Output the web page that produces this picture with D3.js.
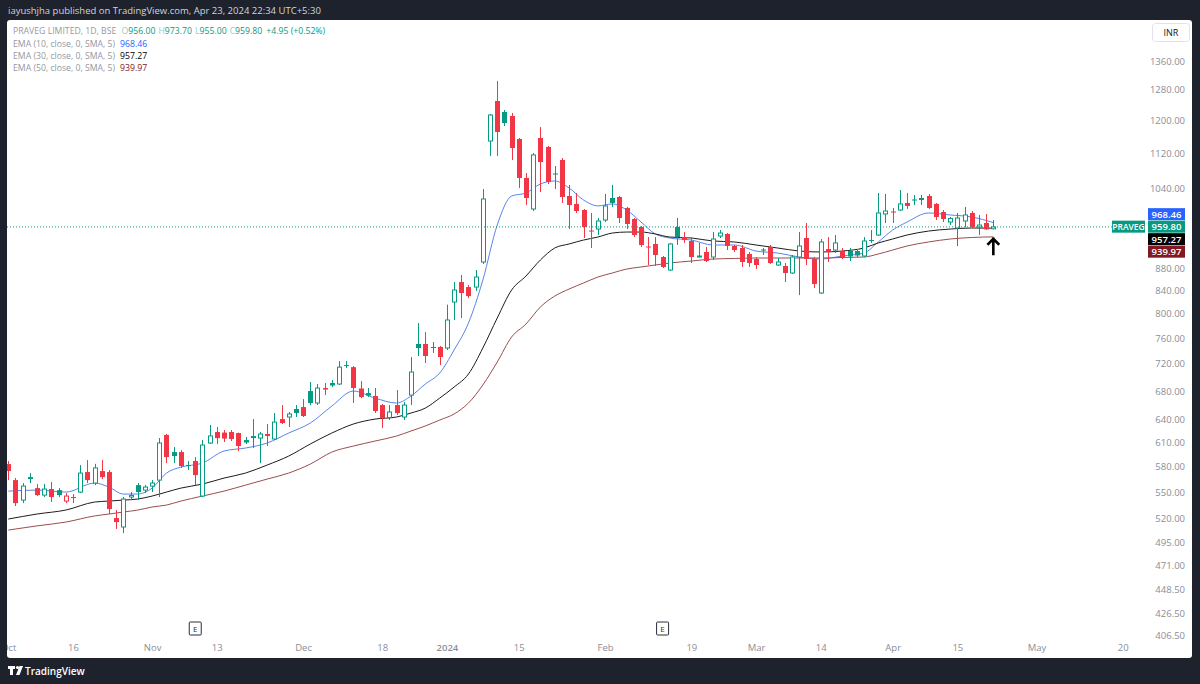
<!DOCTYPE html>
<html><head><meta charset="utf-8">
<script src="https://cdn.jsdelivr.net/npm/d3@7"></script>
<style>
body{margin:0;background:#1e222d;}
svg{display:block;}
text{font-family:"Open Sans","Noto Sans",sans-serif;}
</style></head>
<body><svg id="chart" width="1200" height="684"></svg>
<script>
// ---------------- DATA ----------------
const dates = [
"2023-10-03","2023-10-04","2023-10-05","2023-10-06","2023-10-09","2023-10-10","2023-10-11","2023-10-12","2023-10-13","2023-10-16",
"2023-10-17","2023-10-18","2023-10-19","2023-10-20","2023-10-23","2023-10-25","2023-10-26","2023-10-27","2023-10-30","2023-10-31",
"2023-11-01","2023-11-02","2023-11-03","2023-11-06","2023-11-07","2023-11-08","2023-11-09","2023-11-10","2023-11-12","2023-11-13",
"2023-11-15","2023-11-16","2023-11-17","2023-11-20","2023-11-21","2023-11-22","2023-11-23","2023-11-24","2023-11-28","2023-11-29",
"2023-11-30","2023-12-01","2023-12-04","2023-12-05","2023-12-06","2023-12-07","2023-12-08","2023-12-11","2023-12-12","2023-12-13",
"2023-12-14","2023-12-15","2023-12-18","2023-12-19","2023-12-20","2023-12-21","2023-12-22","2023-12-26","2023-12-27","2023-12-28",
"2023-12-29","2024-01-01","2024-01-02","2024-01-03","2024-01-04","2024-01-05","2024-01-08","2024-01-09","2024-01-10","2024-01-11",
"2024-01-12","2024-01-15","2024-01-16","2024-01-17","2024-01-18","2024-01-19","2024-01-20","2024-01-23","2024-01-24","2024-01-25",
"2024-01-29","2024-01-30","2024-01-31","2024-02-01","2024-02-02","2024-02-05","2024-02-06","2024-02-07","2024-02-08","2024-02-09",
"2024-02-12","2024-02-13","2024-02-14","2024-02-15","2024-02-16","2024-02-19","2024-02-20","2024-02-21","2024-02-22","2024-02-23",
"2024-02-26","2024-02-27","2024-02-28","2024-02-29","2024-03-01","2024-03-02","2024-03-04","2024-03-05","2024-03-06","2024-03-07",
"2024-03-11","2024-03-12","2024-03-13","2024-03-14","2024-03-15","2024-03-18","2024-03-19","2024-03-20","2024-03-21","2024-03-22",
"2024-03-26","2024-03-27","2024-03-28","2024-04-01","2024-04-02","2024-04-03","2024-04-04","2024-04-05","2024-04-08","2024-04-09",
"2024-04-10","2024-04-12","2024-04-15","2024-04-16","2024-04-18","2024-04-19","2024-04-22","2024-04-23"];
const futureDates = ["2024-04-24","2024-04-25","2024-04-26","2024-04-29","2024-04-30","2024-05-02","2024-05-03","2024-05-06","2024-05-07",
"2024-05-08","2024-05-09","2024-05-10","2024-05-13","2024-05-14","2024-05-15","2024-05-16","2024-05-17","2024-05-20","2024-05-21",
"2024-05-22","2024-05-23","2024-05-24","2024-05-27","2024-05-28","2024-05-29","2024-05-30","2024-05-31"];

const open = [583.2,563.9,540.7,565.7,554.5,546.4,553.4,552.2,539.6,544.2,
549.9,573.5,560.4,574.7,573.5,520.7,511.0,544.2,558.0,552.2,
556.9,563.9,620.0,598.1,598.1,582.0,586.9,545.3,609.6,623.8,
623.1,623.8,622.5,613.4,616.6,615.9,621.2,614.7,641.0,643.8,
654.7,657.4,679.9,663.0,684.2,691.5,690.0,718.0,714.9,683.5,
677.0,672.8,660.2,643.1,660.2,643.8,674.2,750.5,750.5,745.8,
745.8,744.2,819.7,854.8,845.9,845.9,891.6,1149.6,1250.4,1221.9,
1211.6,1154.5,1063.7,996.6,1156.9,1135.3,1073.8,1104.6,1024.2,1007.3,
994.5,952.5,955.5,973.8,1019.9,1022.1,998.7,975.9,959.6,921.1,
926.0,901.0,876.7,959.6,939.6,931.8,901.0,910.5,901.0,941.6,
945.6,922.1,918.2,906.7,897.2,915.3,920.1,886.0,884.1,871.2,
901.0,937.7,897.2,835.4,916.2,914.3,912.4,912.4,912.4,902.9,
933.7,943.6,986.3,991.4,994.5,1009.3,1016.7,1019.9,1024.2,1007.3,
990.3,969.7,957.6,971.8,988.3,959.6,967.7,956.0];
const high = [586.9,566.3,560.4,572.3,559.2,559.2,561.6,554.5,548.7,547.6,
582.0,588.1,583.5,588.1,575.9,529.5,544.2,549.9,560.4,558.0,
563.9,616.0,621.3,604.4,600.6,586.9,591.8,613.4,633.1,630.4,
626.4,626.4,623.1,617.3,641.0,623.8,634.4,649.2,660.2,650.6,
660.2,668.5,692.9,690.0,691.5,695.8,724.1,724.1,716.5,694.3,
684.2,684.2,661.6,660.2,681.3,664.3,730.2,784.3,769.6,753.6,
747.4,815.2,854.8,867.5,849.5,876.7,1039.3,1216.6,1303.9,1227.0,
1219.3,1156.9,1074.9,1121.1,1183.9,1137.7,1090.8,1109.2,1048.2,1030.7,
996.6,988.3,977.9,1028.5,1048.2,1024.2,1001.0,977.9,961.6,939.6,
939.6,902.9,928.0,977.9,949.5,939.6,928.0,920.1,949.5,953.5,
947.5,924.0,924.0,910.5,901.0,918.2,924.0,899.1,889.7,904.8,
949.5,967.7,901.0,935.7,939.6,943.6,918.2,918.2,916.2,939.6,
953.5,1030.7,1028.5,998.7,1037.1,1030.7,1026.3,1026.3,1028.5,1009.3,
994.5,980.0,988.3,1001.0,992.4,984.2,986.3,973.7];
const low = [563.9,534.0,537.3,560.4,545.3,544.2,538.5,544.2,537.3,537.3,
548.7,560.4,558.0,565.1,525.1,508.8,504.5,540.7,540.7,548.7,
549.9,544.2,584.4,584.4,578.4,575.9,558.0,544.2,608.3,608.3,
610.8,612.1,599.4,608.3,603.2,584.4,605.7,613.4,634.4,630.4,
643.8,643.8,660.2,660.2,674.2,685.6,688.6,713.5,663.0,669.9,
671.4,649.2,629.1,639.7,646.5,639.7,660.2,731.8,721.1,736.5,
718.0,741.1,789.3,792.6,826.6,838.9,887.9,1114.0,1114.0,1186.5,
1104.6,1041.5,1005.1,992.4,1032.8,1050.4,1039.3,1009.3,955.5,988.3,
937.7,918.2,943.6,969.7,1001.0,967.7,955.5,939.6,920.1,886.0,
884.1,880.4,874.9,924.0,928.0,889.7,900.1,891.6,895.3,937.7,
914.3,910.5,882.3,882.3,878.5,904.8,887.9,884.1,854.8,869.4,
831.8,886.0,844.2,833.6,891.6,908.6,897.2,893.4,901.0,901.0,
928.0,941.6,967.7,967.7,992.4,996.6,1005.1,1005.1,996.6,973.8,
969.7,963.6,922.1,959.6,957.6,943.6,954.0,955.0];
const close = [574.7,537.3,556.9,566.9,546.4,553.4,544.2,546.4,545.3,543.0,
572.3,563.9,578.5,567.5,530.6,516.3,541.9,545.9,549.9,555.7,
560.4,609.6,591.8,593.1,580.8,581.2,569.9,607.0,618.7,615.9,
615.3,614.7,605.7,610.2,617.9,621.2,618.6,637.0,635.7,647.9,
649.2,645.2,663.0,684.2,682.0,687.9,714.9,716.5,684.2,671.4,
673.5,651.9,642.4,650.6,649.2,660.2,707.6,744.2,731.8,744.2,
730.2,789.3,840.6,835.4,830.0,863.9,1017.8,1214.1,1171.6,1193.9,
1132.9,1063.7,1019.9,1116.4,1100.0,1054.8,1071.6,1022.1,1005.1,992.4,
959.6,950.5,971.8,1003.0,1009.3,977.9,965.7,943.6,924.0,919.2,
904.8,882.3,926.0,939.6,933.7,901.0,902.9,893.4,935.7,947.5,
922.1,914.3,891.6,889.7,886.0,913.3,889.7,891.6,871.2,901.0,
922.1,897.2,851.3,929.9,912.4,928.0,901.0,902.0,903.9,931.8,
932.1,988.3,992.4,989.3,1007.3,1003.0,1014.5,1015.6,998.7,980.0,
975.9,977.0,977.9,984.2,959.6,963.6,954.85,959.8];

// EMA readings at selected bars (bar index into dates)
const emaBar = [0,4,8,12,14,16,18,20,22,24,27,30,33,36,39,42,45,48,51,54,56,58,60,62,64,66,68,70,72,74,76,78,80,82,84,86,88,90,92,95,98,101,104,107,110,113,116,119,121,123,125,128,131,134,137];
const ema10 = [551.0,552.2,549.9,560.4,555.7,547.6,547.6,554.5,572.3,579.5,584.4,599.4,603.2,609.6,622.5,635.7,658.8,679.9,669.9,663.0,672.8,690.0,706.1,741.1,784.3,858.4,963.6,1024.2,1030.7,1050.4,1057.0,1041.5,1015.6,1003.0,1007.3,994.5,969.7,945.6,937.7,933.7,924.0,924.0,912.4,908.6,901.0,897.2,902.9,908.6,929.9,953.5,969.7,988.3,984.2,980.0,968.46];
const ema30 = [519.6,525.1,529.5,538.5,539.6,540.7,541.9,545.3,549.9,554.5,559.2,566.3,572.3,582.0,593.1,608.3,622.5,634.4,641.0,643.8,649.2,656.0,669.9,685.6,704.6,744.2,792.6,840.6,865.7,895.3,918.2,926.0,933.7,939.6,947.5,949.5,949.5,945.6,939.6,937.7,931.8,929.9,924.0,918.2,912.4,910.5,912.4,918.2,928.0,935.7,943.6,951.5,955.5,957.6,957.27];
const ema50 = [507.7,512.2,516.3,523.0,525.1,527.3,529.5,532.9,535.1,539.6,545.3,551.0,558.0,565.1,572.3,583.2,598.1,605.7,612.1,618.6,625.1,631.8,639.7,647.9,663.0,688.6,722.6,761.6,782.7,811.1,830.0,842.4,853.1,863.9,871.2,878.5,882.3,886.0,889.7,893.4,897.2,898.2,899.1,899.1,899.1,899.1,900.1,901.0,906.7,914.3,922.1,929.9,935.7,938.7,939.97];

const yTicks = [1360,1280,1200,1120,1040,880,840,800,760,720,680,640,610,580,550,520,495,471,448.5,426.5,406.5];
const xTickDates = ["2023-10-03","2023-10-16","2023-11-01","2023-11-13","2023-12-01","2023-12-18","2024-01-01","2024-01-15","2024-02-01","2024-02-19","2024-03-01","2024-03-14","2024-04-01","2024-04-15","2024-05-02","2024-05-20"];
const xTickLabels = ["Oct","16","Nov","13","Dec","18","2024","15","Feb","19","Mar","14","Apr","15","May","20"];
const earningsDates = ["2023-11-09","2024-02-13"];

const symbol = "PRAVEG";
const title = "PRAVEG LIMITED, 1D, BSE";
const ohlcLabels = ["O","H","L","C"];
const change = "+4.95 (+0.52%)";
const emaNames = ["EMA (10, close, 0, SMA, 5)","EMA (30, close, 0, SMA, 5)","EMA (50, close, 0, SMA, 5)"];

// ---------------- STYLE ----------------
const UP = "#089981", DOWN = "#f23645";
const EMA_COL = ["#5b83ec", "#1c1c1c", "#9a4e4e"];
const EMA_LBL = ["#2962ff", "#000000", "#801922"];

const svg = d3.select("#chart");
const W = 1200, H = 684;
const panel = {x0: 7, x1: 1192, y0: 20, y1: 658};
const plotRight = 1146;

svg.append("rect").attr("width", W).attr("height", H).attr("fill", "#1e222d");
svg.append("rect").attr("x", panel.x0).attr("y", panel.y0)
  .attr("width", panel.x1 - panel.x0).attr("height", panel.y1 - panel.y0)
  .attr("rx", 3).attr("fill", "#ffffff");

// header
svg.append("text").attr("x", 8).attr("y", 14).attr("fill", "#d1d4dc")
  .attr("font-size", 9.5).text("iayushjha published on TradingView.com, Apr 23, 2024 22:34 UTC+5:30");

// scales
const allDates = dates.concat(futureDates);
const step = 7.19, firstX = 8.3;
const x = d3.scalePoint().domain(allDates).range([firstX, firstX + (allDates.length - 1) * step]);
const y = d3.scaleLog().domain([406.5, 1360]).range([635.9, 61]);

// clip
svg.append("clipPath").attr("id", "plotclip").append("rect")
  .attr("x", panel.x0).attr("y", panel.y0).attr("width", plotRight - panel.x0).attr("height", panel.y1 - panel.y0);
const plot = svg.append("g").attr("clip-path", "url(#plotclip)");

// right axis
const yAxis = d3.axisRight(y).tickValues(yTicks).tickSize(0).tickFormat(d3.format(".2f"));
const ga = svg.append("g").attr("transform", `translate(${plotRight},0)`).call(yAxis);
ga.select(".domain").remove();
ga.selectAll("text").attr("x", 1185 - plotRight).attr("text-anchor", "end")
  .attr("fill", "#8a8e98").attr("font-size", 9.5).attr("font-family", "Open Sans");

// bottom axis (wrapped in a clipped group so labels cut at the panel edge)
const xAxis = d3.axisBottom(x).tickValues(xTickDates).tickSize(0)
  .tickFormat(d => xTickLabels[xTickDates.indexOf(d)]);
const gxWrap = svg.append("g").attr("clip-path", "url(#plotclip)");
const gx = gxWrap.append("g").attr("transform", `translate(0,641)`).call(xAxis);
gx.select(".domain").remove();
gx.selectAll("text").attr("fill", "#8a8e98").attr("font-size", 9.5).attr("font-family", "Open Sans")
  .attr("font-weight", d => d.endsWith("01-01") ? 600 : 400);

// earnings markers
earningsDates.forEach(d => {
  const g = svg.append("g").attr("transform", `translate(${x(d)},629)`);
  g.append("rect").attr("x", -6).attr("y", -7).attr("width", 12).attr("height", 13)
    .attr("fill", "#fff").attr("stroke", "#2a2e39").attr("stroke-width", 1).attr("rx", 1);
  g.append("text").attr("text-anchor", "middle").attr("y", 3).attr("font-size", 8).attr("fill", "#2a2e39").text("E");
});

// EMA lines
const emaSets = [ema10, ema30, ema50];
emaSets.forEach((vals, k) => {
  const line = d3.line().x((v, i) => x(dates[emaBar[i]])).y(v => y(v)).curve(d3.curveMonotoneX);
  plot.append("path").attr("d", line(vals)).attr("fill", "none")
    .attr("stroke", EMA_COL[k]).attr("stroke-width", 1);
});

// candles
const bars = dates.map((d, i) => ({d, o: open[i], h: high[i], l: low[i], c: close[i],
  pc: i > 0 ? close[i - 1] : open[i]}));
const bw = 5;
const cg = plot.selectAll("g.candle").data(bars).enter().append("g");
cg.each(function(b) {
  const g = d3.select(this);
  const col = b.c >= b.pc ? UP : DOWN;
  const hollow = b.c > b.o;
  const cx = Math.round(x(b.d)) + 0.5;
  g.append("line").attr("x1", cx).attr("x2", cx).attr("y1", y(b.h)).attr("y2", y(b.l))
    .attr("stroke", col).attr("stroke-width", 1);
  const top = y(Math.max(b.o, b.c)), bot = y(Math.min(b.o, b.c));
  const hgt = Math.max(1, bot - top);
  if (hollow) {
    g.append("rect").attr("x", cx - bw / 2 + 0.5).attr("y", top).attr("width", bw - 1).attr("height", Math.max(1, hgt))
      .attr("fill", "#ffffff").attr("stroke", col).attr("stroke-width", 1);
  } else {
    g.append("rect").attr("x", cx - bw / 2).attr("y", top).attr("width", bw).attr("height", hgt).attr("fill", col);
  }
});

// last price dotted line
const last = close[close.length - 1];
svg.append("line").attr("x1", panel.x0).attr("x2", 1112).attr("y1", y(last)).attr("y2", y(last))
  .attr("stroke", UP).attr("stroke-width", 1).attr("stroke-dasharray", "1,2");

// arrow annotation under last bar
const ax = x(dates[dates.length - 1]);
const aTip = y(ema50[ema50.length - 1]) + 1;
svg.append("path")
  .attr("d", `M${ax},${aTip + 16} L${ax},${aTip + 1} M${ax - 5},${aTip + 6} L${ax},${aTip + 1} L${ax + 5},${aTip + 6}`)
  .attr("fill", "none").attr("stroke", "#000").attr("stroke-width", 2.6).attr("stroke-linecap", "square");

// price labels on axis, stacked to avoid overlap
const lblH = 12.5;
const lastEma = emaSets.map(a => a[a.length - 1]);
const closeY = y(last);
const labels = [
  {v: lastEma[0], bg: EMA_LBL[0]},
  {v: last, bg: UP},
  {v: lastEma[1], bg: EMA_LBL[1]},
  {v: lastEma[2], bg: EMA_LBL[2]}
];
labels[1].py = closeY;
labels[0].py = Math.min(y(labels[0].v), closeY - lblH);
labels[2].py = Math.max(y(labels[2].v), closeY + lblH);
labels[3].py = Math.max(y(labels[3].v), labels[2].py + lblH);
labels.forEach(L => {
  svg.append("rect").attr("x", 1148).attr("y", L.py - lblH / 2).attr("width", 37).attr("height", lblH - 0.5)
    .attr("fill", L.bg);
  svg.append("text").attr("x", 1166.5).attr("y", L.py + 3.3).attr("text-anchor", "middle")
    .attr("fill", "#fff").attr("font-size", 9.5).attr("font-weight", 600).text(d3.format(".2f")(L.v));
});
svg.append("rect").attr("x", 1112).attr("y", closeY - lblH / 2).attr("width", 33).attr("height", lblH - 0.5).attr("fill", UP);
svg.append("text").attr("x", 1128.5).attr("y", closeY + 3.3).attr("text-anchor", "middle")
  .attr("fill", "#fff").attr("font-size", 8.5).attr("font-weight", 600).text(symbol);

// INR box
svg.append("rect").attr("x", 1152.5).attr("y", 23.5).attr("width", 37).attr("height", 18).attr("rx", 3)
  .attr("fill", "#fff").attr("stroke", "#e0e3eb");
svg.append("text").attr("x", 1171).attr("y", 36).attr("text-anchor", "middle").attr("fill", "#131722")
  .attr("font-size", 9).text("INR");

// legend
const lg = svg.append("g").attr("font-size", 8.7);
const row1 = lg.append("text").attr("x", 13).attr("y", 33.5);
row1.append("tspan").attr("fill", "#9598a1").text(title + " ");
const ohlcVals = [open, high, low, close].map(a => a[a.length - 1]);
ohlcLabels.forEach((l, k) => {
  row1.append("tspan").attr("fill", "#9bcbc0").attr("dx", 3).text(l);
  row1.append("tspan").attr("fill", UP).text(d3.format(".2f")(ohlcVals[k]));
});
row1.append("tspan").attr("fill", UP).attr("dx", 4).text(change);
emaNames.forEach((n, k) => {
  const t = lg.append("text").attr("x", 13).attr("y", 46.5 + k * 12.4);
  t.append("tspan").attr("fill", "#9598a1").text(n);
  t.append("tspan").attr("fill", EMA_LBL[k]).attr("dx", 5).text(d3.format(".2f")(lastEma[k]));
});

// footer logo
const fl = svg.append("g").attr("fill", "#ffffff");
fl.append("path").attr("d", "M8,666 h7 v3 h-2 v6 h-3 v-6 h-2 z");
fl.append("circle").attr("cx", 17.5).attr("cy", 667.5).attr("r", 1.6);
fl.append("path").attr("d", "M19.5,666 h3.5 l-3.5,9 h-3.5 z");
fl.append("text").attr("x", 25).attr("y", 674.5).attr("font-size", 10).attr("font-weight", 600).text("TradingView");
</script>
</body></html>
